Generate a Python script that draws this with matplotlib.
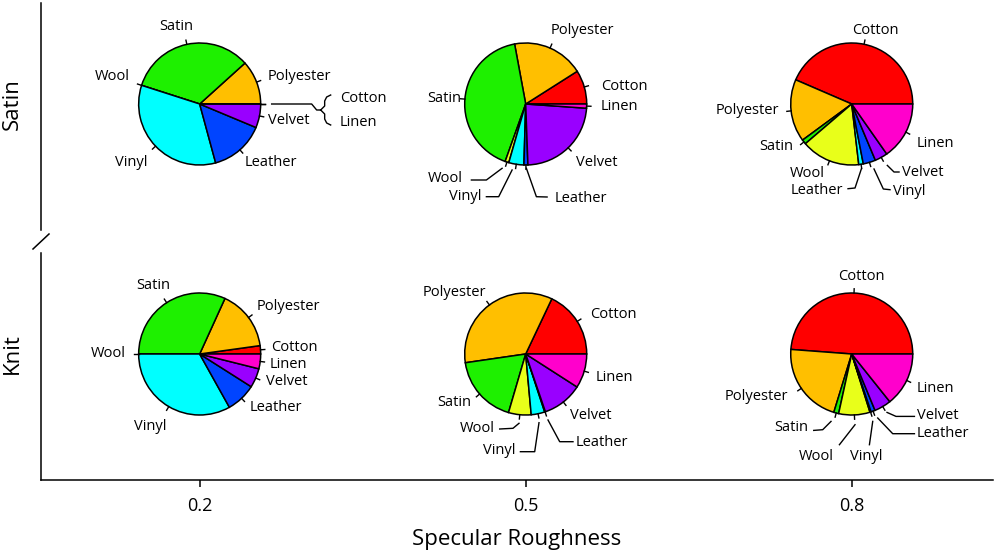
import numpy as np
import matplotlib
matplotlib.use("Agg")
import matplotlib.pyplot as plt
from matplotlib import transforms
from matplotlib.lines import Line2D

# ---------------- data ----------------
materials = ["Cotton", "Polyester", "Satin", "Wool", "Vinyl", "Leather", "Velvet", "Linen"]
material_colors = ["#FF0000", "#FFBF00", "#1EF000", "#E8FF1A", "#00FFFF", "#0044FF", "#9900FF", "#FF00CC"]
roughness = [0.2, 0.5, 0.8]
fabrics = ["Knit", "Satin"]          # y positions 0, 1
x_label = "Specular Roughness"

# shares (%) in material order
satin_02 = [0.0, 11.7, 33.4, 0.0, 34.2, 14.5, 6.3, 0.0]
satin_05 = [9.0, 18.9, 41.6, 1.0, 4.0, 1.05, 23.3, 1.1]
satin_08 = [43.6, 16.6, 1.2, 15.6, 1.2, 3.3, 3.4, 15.3]
knit_02 = [2.2, 16.0, 31.8, 0.0, 33.1, 7.9, 5.1, 3.9]
knit_05 = [18.0, 34.4, 18.2, 6.0, 3.6, 0.2, 10.7, 9.1]
knit_08 = [48.9, 21.5, 1.3, 8.3, 0.3, 1.1, 4.5, 14.3]

pie_values = {
    ("Satin", 0.2): satin_02, ("Satin", 0.5): satin_05, ("Satin", 0.8): satin_08,
    ("Knit", 0.2): knit_02, ("Knit", 0.5): knit_05, ("Knit", 0.8): knit_08,
}

# ---------------- label placement (pixel offsets from pie centre, y up) ----------------
# name: (dx, dy, ha, leader polyline or None)
label_layout = {
    ("Satin", 0.2): {
        "Satin": (-23, 78, "center", None),
        "Wool": (-70, 28, "right", None),
        "Polyester": (68, 27, "left", None),
        "Cotton": (140, 5, "left", None),
        "Linen": (140, -19, "left", None),
        "Velvet": (68, -16, "left", None),
        "Vinyl": (-52, -59, "right", None),
        "Leather": (45, -59, "left", None),
    },
    ("Satin", 0.5): {
        "Polyester": (25, 74, "left", None),
        "Cotton": (75, 18, "left", None),
        "Linen": (75, -3, "left", None),
        "Satin": (-64, 6, "right", None),
        "Velvet": (50, -58, "left", None),
        "Wool": (-63, -75, "right", [(-23.6, -64.3), (-39.3, -76), (-54.3, -76)]),
        "Vinyl": (-44, -93, "right", [(-13.6, -66), (-27, -92.7), (-39.3, -92.7)]),
        "Leather": (29, -94.7, "left", [(0.7, -64.3), (10.7, -92.7), (21.4, -93)]),
    },
    ("Satin", 0.8): {
        "Cotton": (23.6, 73.6, "center", None),
        "Polyester": (-72.7, -6.7, "right", None),
        "Linen": (64.6, -39.7, "left", None),
        "Satin": (-58.4, -43, "right", None),
        "Wool": (-44.7, -69.7, "center", None),
        "Leather": (-8.7, -86.4, "right", [(9.6, -65), (3.3, -84), (-3.7, -84.7)]),
        "Velvet": (50.6, -68, "left", [(35.6, -61.4), (42.3, -68), (47.3, -68)]),
        "Vinyl": (41.6, -87.4, "left", [(22.3, -65), (31.6, -85), (38.3, -85.7)]),
    },
    ("Knit", 0.2): {
        "Satin": (-46.6, 68.3, "center", None),
        "Polyester": (56.7, 47.7, "left", None),
        "Wool": (-74, 0.3, "right", None),
        "Cotton": (71.7, 6.7, "left", None),
        "Linen": (70, -10, "left", None),
        "Velvet": (66, -27.7, "left", None),
        "Leather": (50, -53.7, "left", None),
        "Vinyl": (-49.3, -72.7, "center", None),
    },
    ("Knit", 0.5): {
        "Polyester": (-71.7, 61.3, "center", None),
        "Cotton": (64.7, 39, "left", None),
        "Linen": (70, -23.3, "left", None),
        "Satin": (-54.3, -48.3, "right", None),
        "Velvet": (44.7, -61.7, "left", None),
        "Wool": (-31, -74.3, "right", [(-6.7, -69.3), (-12.7, -74.3), (-26, -75)]),
        "Vinyl": (-10, -97, "right", [(13.3, -68.7), (9, -97.7), (-5.3, -97.7)]),
        "Leather": (50, -88.3, "left", [(22.3, -66), (34, -87.7), (47.3, -87.7)]),
    },
    ("Knit", 0.8): {
        "Cotton": (9.7, 77, "center", None),
        "Polyester": (-63.3, -42.7, "right", None),
        "Linen": (65.3, -34.7, "left", None),
        "Satin": (-43.3, -73.4, "right", [(-20.7, -67.4), (-29, -75.7), (-38, -76.4)]),
        "Velvet": (65.3, -61.4, "left", [(35.3, -58.4), (44.3, -62.4), (62.7, -62.4)]),
        "Leather": (65.3, -79.7, "left", [(26, -64), (41, -79.7), (62.7, -79.7)]),
        "Wool": (-35, -102, "center", [(3.3, -70.7), (-12.3, -90.7)]),
        "Vinyl": (15, -102.4, "center", [(21, -67.4), (17.7, -90.7)]),
    },
}
# bracket joining Cotton and Linen in the top-left pie (pixel offsets)
bracket_lines = [
    [(72, 0), (112, 0), (117, -6), (121, -6)],
    [(131, 9), (127, 7), (125, 3), (125, -2), (121, -6)],
    [(121, -6), (125, -10), (125, -15), (127, -19), (131, -21)],
]

# ---------------- figure ----------------
FW, FH, DPI = 996, 556, 100
plt.rcParams["font.family"] = ["Open Sans", "DejaVu Sans"]
fig = plt.figure(figsize=(FW / DPI, FH / DPI), dpi=DPI)
ax = fig.add_axes([41 / FW, 76 / FH, (993 - 41) / FW, (553 - 76) / FH])
ax.set_xlim(0.054, 0.930)
ax.set_ylim(-0.504, 1.404)
for s in ["top", "right", "left"]:
    ax.spines[s].set_visible(False)
ax.spines["bottom"].set_linewidth(1.1)
ax.set_xticks(roughness)
ax.set_xticklabels([str(r) for r in roughness], fontsize=13)
ax.tick_params(axis="x", direction="out", length=5, width=1.1, pad=7)
ax.set_yticks(range(len(fabrics)))
ax.set_yticklabels(fabrics, rotation=90, va="center", ha="right", fontsize=16)
ax.tick_params(axis="y", length=0, pad=13)
ax.set_xlabel(x_label, fontsize=16, labelpad=10)

# broken left axis
blend = transforms.blended_transform_factory(ax.transAxes, ax.transData)
ax.plot([0, 0], [0.496, 1.404], color="black", lw=1.1, transform=blend, clip_on=False)
ax.plot([0, 0], [-0.504, 0.404], color="black", lw=1.1, transform=blend, clip_on=False)
aw = (993 - 41)
ahh = (553 - 76)
ax.add_line(Line2D([-8 / aw, 8 / aw], [0.5 - 7.5 / ahh, 0.5 + 7.5 / ahh], color="black",
                   lw=1.1, transform=ax.transAxes, clip_on=False))

# ---------------- pies ----------------
R = 61.0           # pie radius in pixels
BW, BH = 360, 260  # inset box size in pixels

for (fab, rough), vals in pie_values.items():
    yv = fabrics.index(fab)
    cx, cy = ax.transData.transform((rough, yv))
    pax = fig.add_axes([(cx - BW / 2) / FW, (cy - BH / 2) / FH, BW / FW, BH / FH])
    pax.pie(vals, colors=material_colors, startangle=0, counterclock=True, radius=1,
            wedgeprops=dict(edgecolor="black", linewidth=1.1))
    pax.set_xlim(-BW / 2 / R, BW / 2 / R)
    pax.set_ylim(-BH / 2 / R, BH / 2 / R)
    pax.set_aspect("equal")
    pax.axis("off")

    total = float(sum(vals))
    cum = np.cumsum([0.0] + list(vals)) / total * 360.0
    layout = label_layout[(fab, rough)]
    for i, name in enumerate(materials):
        mid = np.deg2rad((cum[i] + cum[i + 1]) / 2.0)
        c, s = np.cos(mid), np.sin(mid)
        pax.plot([c, 1.07 * c], [s, 1.07 * s], color="black", lw=1.0, clip_on=False)
        if name in layout:
            dx, dy, ha, leader = layout[name]
        else:
            dx, dy = 1.2 * R * c, 1.2 * R * s
            ha = "left" if c > 0.2 else ("right" if c < -0.2 else "center")
            leader = None
        pax.text(dx / R, dy / R, name, ha=ha, va="center", fontsize=10.5, clip_on=False)
        if leader:
            xs = [p[0] / R for p in leader]
            ys = [p[1] / R for p in leader]
            pax.plot(xs, ys, color="black", lw=1.0, clip_on=False)
    if (fab, rough) == ("Satin", 0.2):
        for seg in bracket_lines:
            pax.plot([p[0] / R for p in seg], [p[1] / R for p in seg], color="black",
                     lw=1.0, clip_on=False)

fig.savefig("out.png", dpi=DPI)
